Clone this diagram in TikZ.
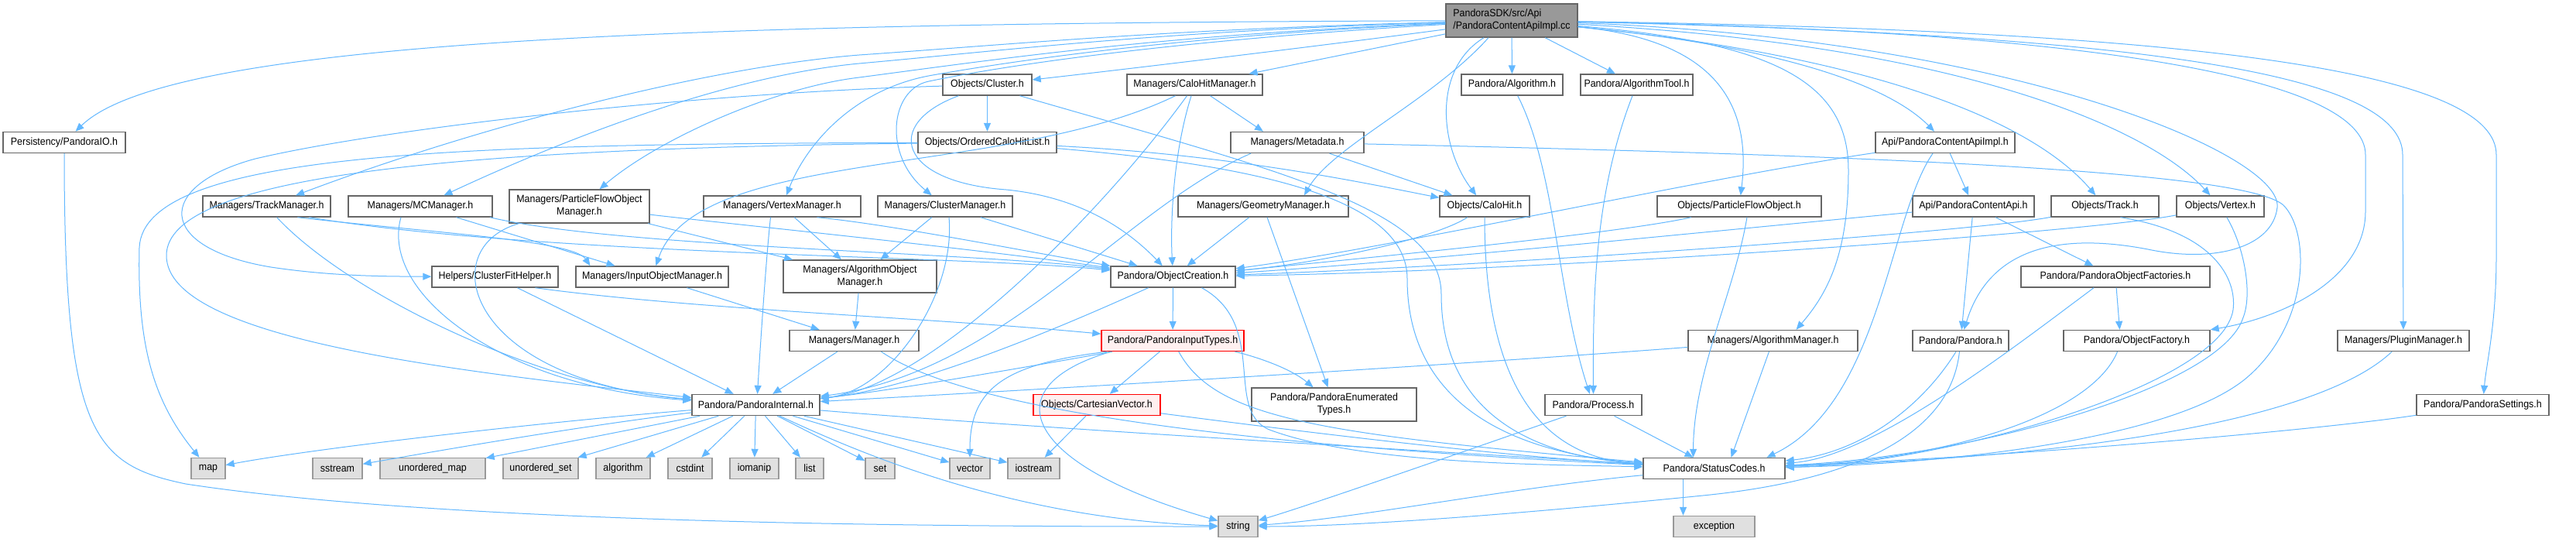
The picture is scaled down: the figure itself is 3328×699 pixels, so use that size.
\documentclass[tikz,border=0pt]{standalone}
\usepackage{graphicx}
\usepackage{fontspec}
\setmainfont{Liberation Sans}
\usetikzlibrary{arrows.meta}
\definecolor{edgeblue}{HTML}{63B8FF}
\definecolor{nodegray}{HTML}{666666}
\definecolor{extborder}{HTML}{999999}
\definecolor{extfill}{HTML}{E0E0E0}
\definecolor{rootfill}{HTML}{999999}
\definecolor{redfill}{HTML}{FFF0F0}
\newcommand\fw[2]{\scalebox{0.92}[1]{#2}}
\tikzset{
 nd/.style={draw=nodegray, fill=white, line width=1.4pt, minimum height=27pt, inner sep=0pt, font=\fontsize{13.5}{16}\selectfont, text=black},
 two/.style={minimum height=43pt, align=center},
 ext/.style={nd, draw=extborder, fill=extfill},
 rootnd/.style={nd, fill=rootfill, minimum height=43pt, align=left},
 rednd/.style={nd, draw=red, fill=redfill},
 edg/.style={draw=edgeblue, line width=1pt, -{Triangle[length=11pt,width=9pt]}},
}
\begin{document}
\begin{tikzpicture}[x=1pt,y=-1pt]
\fill[white] (0,0) rectangle (3328,699);
\useasboundingbox (0,0) rectangle (3328,699);
% ---------- nodes ----------
\node[rootnd, minimum width=170pt] (root) at (1953,26.5) {\fw{113}{PandoraSDK/src/Api}\\\fw{149}{/PandoraContentApiImpl.cc}};
\node[nd, minimum width=115pt] (cluster) at (1275.5,109.5) {\fw{94}{Objects/Cluster.h}};
\node[nd, minimum width=175pt] (chm) at (1543.5,109.5) {\fw{154}{Managers/CaloHitManager.h}};
\node[nd, minimum width=131pt] (alg) at (1953.5,109.5) {\fw{110}{Pandora/Algorithm.h}};
\node[nd, minimum width=145pt] (algtool) at (2114.5,109.5) {\fw{124}{Pandora/AlgorithmTool.h}};
\node[nd, minimum width=158pt] (pio) at (83,184) {\fw{137}{Persistency/PandoraIO.h}};
\node[nd, minimum width=179pt] (ochl) at (1275.5,184) {\fw{158}{Objects/OrderedCaloHitList.h}};
\node[nd, minimum width=172pt] (meta) at (1676,184) {\fw{151}{Managers/Metadata.h}};
\node[nd, minimum width=180pt] (apiimpl) at (2513,184) {\fw{159}{Api/PandoraContentApiImpl.h}};
\node[nd, minimum width=165pt] (trackmgr) at (344.5,266.5) {\fw{144}{Managers/TrackManager.h}};
\node[nd, minimum width=186pt] (mcmgr) at (543,266.5) {\fw{165}{Managers/MCManager.h}};
\node[nd, two, minimum width=181pt] (pfomgr) at (748.5,266.5) {\fw{159}{Managers/ParticleFlowObject}\\\fw{57}{Manager.h}};
\node[nd, minimum width=203pt] (vtxmgr) at (1010.5,266.5) {\fw{182}{Managers/VertexManager.h}};
\node[nd, minimum width=174pt] (clmgr) at (1221,266.5) {\fw{153}{Managers/ClusterManager.h}};
\node[nd, minimum width=220pt] (geomgr) at (1632,266.5) {\fw{199}{Managers/GeometryManager.h}};
\node[nd, minimum width=116pt] (calohit) at (1918,266.5) {\fw{95}{Objects/CaloHit.h}};
\node[nd, minimum width=212pt] (pfo) at (2247,266.5) {\fw{191}{Objects/ParticleFlowObject.h}};
\node[nd, minimum width=157pt] (api) at (2549.5,266.5) {\fw{136}{Api/PandoraContentApi.h}};
\node[nd, minimum width=139pt] (track) at (2719.5,266.5) {\fw{118}{Objects/Track.h}};
\node[nd, minimum width=113pt] (vertex) at (2868.5,266.5) {\fw{92}{Objects/Vertex.h}};
\node[nd, minimum width=163pt] (cfh) at (639.5,357.5) {\fw{142}{Helpers/ClusterFitHelper.h}};
\node[nd, minimum width=197pt] (iom) at (842.5,357.5) {\fw{176}{Managers/InputObjectManager.h}};
\node[nd, two, minimum width=198pt, minimum height=42pt] (aom) at (1111,357) {\fw{177}{Managers/AlgorithmObject}\\\fw{57}{Manager.h}};
\node[nd, minimum width=161pt] (oc) at (1515.5,357.5) {\fw{140}{Pandora/ObjectCreation.h}};
\node[nd, minimum width=244pt] (pof) at (2733,357.5) {\fw{223}{Pandora/PandoraObjectFactories.h}};
\node[nd, minimum width=167pt] (mgr) at (1103.5,440) {\fw{146}{Managers/Manager.h}};
\node[rednd, minimum width=184pt] (pit) at (1515,440) {\fw{163}{Pandora/PandoraInputTypes.h}};
\node[nd, minimum width=219pt] (algmgr) at (2290.5,440) {\fw{198}{Managers/AlgorithmManager.h}};
\node[nd, minimum width=124pt] (pandora) at (2533,440) {\fw{103}{Pandora/Pandora.h}};
\node[nd, minimum width=189pt] (of) at (2760.5,440) {\fw{168}{Pandora/ObjectFactory.h}};
\node[nd, minimum width=170pt] (plugin) at (3105,440) {\fw{149}{Managers/PluginManager.h}};
\node[nd, minimum width=165pt] (pint) at (976.5,523) {\fw{144}{Pandora/PandoraInternal.h}};
\node[rednd, minimum width=164pt] (cv) at (1417,523) {\fw{143}{Objects/CartesianVector.h}};
\node[nd, two, minimum width=213pt] (enum) at (1723.5,522.5) {\fw{192}{Pandora/PandoraEnumerated}\\\fw{43}{Types.h}};
\node[nd, minimum width=125pt] (proc) at (2058.5,523) {\fw{104}{Pandora/Process.h}};
\node[nd, minimum width=171pt] (settings) at (3207.5,523) {\fw{150}{Pandora/PandoraSettings.h}};
\node[ext, minimum width=44pt] (map) at (269,605) {\fw{23}{map}};
\node[ext, minimum width=64pt] (sstream) at (436,605) {\fw{43}{sstream}};
\node[ext, minimum width=136pt] (umap) at (559,605) {\fw{115}{unordered\_map}};
\node[ext, minimum width=97pt] (uset) at (698.5,605) {\fw{76}{unordered\_set}};
\node[ext, minimum width=70pt] (algo) at (805,605) {\fw{49}{algorithm}};
\node[ext, minimum width=57pt] (cstdint) at (891.5,605) {\fw{36}{cstdint}};
\node[ext, minimum width=63pt] (iomanip) at (974.5,605) {\fw{42}{iomanip}};
\node[ext, minimum width=36pt] (list) at (1046,605) {\fw{15}{list}};
\node[ext, minimum width=38pt] (set) at (1137,605) {\fw{17}{set}};
\node[ext, minimum width=52pt] (vector) at (1253,605) {\fw{31}{vector}};
\node[ext, minimum width=67pt] (iostream) at (1335.5,605) {\fw{46}{iostream}};
\node[nd, minimum width=183pt] (sc) at (2214.5,605) {\fw{162}{Pandora/StatusCodes.h}};
\node[ext, minimum width=51pt] (string) at (1599.5,680) {\fw{30}{string}};
\node[ext, minimum width=105pt] (exception) at (2214.5,680) {\fw{84}{exception}};
% ---------- edges ----------
% root
\draw[edg] (root) .. controls (900,30) and (220,50) .. (pio);
\draw[edg] (root) .. controls (1700,60) and (1450,90) .. (cluster);
\draw[edg] (root) -- (chm);
\draw[edg] (root) -- (alg);
\draw[edg] (root) -- (algtool);
\draw[edg] (root) .. controls (1500,38) and (1300,58) .. (1110,71) .. controls (900,88) and (600,170) .. (trackmgr);
\draw[edg] (root) .. controls (1500,40) and (1300,65) .. (1110,82) .. controls (950,97) and (750,170) .. (mcmgr);
\draw[edg] (root) .. controls (1500,45) and (1300,75) .. (1110,100) .. controls (1000,113) and (850,180) .. (pfomgr);
\draw[edg] (root) .. controls (1550,45) and (1330,75) .. (1205,97) .. controls (1100,115) and (1040,190) .. (vtxmgr);
\draw[edg] (root) .. controls (1550,50) and (1320,80) .. (1200,105) .. controls (1150,115) and (1140,200) .. (clmgr);
\draw[edg] ([xshift=-30pt]root.south) .. controls (1850,130) and (1720,190) .. ([xshift=53pt]geomgr.north);
\draw[edg] (root) .. controls (1850,90) and (1860,190) .. (calohit);
\draw[edg] (root) .. controls (2200,50) and (2265,120) .. (pfo);
\draw[edg] (root) .. controls (2300,60) and (2440,110) .. (apiimpl);
\draw[edg] (root) .. controls (2400,70) and (2620,150) .. (track);
\draw[edg] (root) .. controls (2550,60) and (2780,170) .. (vertex);
\draw[edg] (root) .. controls (2300,55) and (2388,110) .. (2388,220) .. controls (2388,330) and (2360,380) .. ([xshift=30pt]algmgr.north);
\draw[edg] (root) .. controls (2600,50) and (2950,200) .. (2942,268) .. controls (2936,320) and (2860,340) .. (2775,322) .. controls (2660,300) and (2570,320) .. (pandora);
\draw[edg] (root) .. controls (2700,40) and (3056,100) .. (3056,200) -- (3056,273) .. controls (3056,360) and (2950,410) .. (of.north east);
\draw[edg] (root) .. controls (2800,45) and (3104,100) .. (3104,200) -- (plugin);
\draw[edg] (root) .. controls (2900,40) and (3225,100) .. (3225,200) -- (3225,330) .. controls (3225,420) and (3212,470) .. (settings);
% cluster
\draw[edg] (cluster) -- (ochl);
\draw[edg] ([xshift=-37pt]cluster.south) .. controls (1140,160) and (1160,235) .. (1300,245) .. controls (1400,255) and (1460,300) .. (oc);
\draw[edg] ([xshift=42pt]cluster.south) .. controls (1650,220) and (1862,270) .. (1862,380) .. controls (1862,540) and (1990,590) .. (sc);
\draw[edg] (cluster) .. controls (900,120) and (500,165) .. (330,205) .. controls (200,240) and (200,320) .. (350,345) .. controls (430,357) and (500,357) .. (cfh);
% ordered calo hit list
\draw[edg] (ochl) .. controls (600,186) and (185,195) .. (180,320) .. controls (177,450) and (200,520) .. (map);
\draw[edg] (ochl) .. controls (600,192) and (215,225) .. (215,330) .. controls (215,440) and (600,480) .. (pint);
\draw[edg] (ochl) .. controls (1600,200) and (1780,240) .. (calohit);
\draw[edg] (ochl) .. controls (1640,215) and (1818,260) .. (1818,360) .. controls (1818,520) and (1950,585) .. (sc);
% calo hit manager
\draw[edg] ([xshift=20pt]chm.south) -- ([xshift=-44pt]meta.north);
\draw[edg] (chm) .. controls (1515,200) and (1512,290) .. (oc);
\draw[edg] ([xshift=-10pt]chm.south) .. controls (1420,280) and (1200,500) .. (pint);
\draw[edg] ([xshift=-25pt]chm.south) .. controls (1300,230) and (900,190) .. (iom);
% metadata
\draw[edg] (meta) -- (calohit);
\draw[edg] ([xshift=-60pt]meta.south) .. controls (1450,270) and (1300,480) .. (pint);
\draw[edg] (meta) .. controls (2400,200) and (2900,220) .. (2950,265) .. controls (2985,300) and (2985,420) .. (2900,490) .. controls (2800,570) and (2500,600) .. (sc);
% track manager
\draw[edg] (trackmgr) .. controls (450,380) and (700,500) .. (pint);
\draw[edg] ([xshift=40pt]trackmgr.south) .. controls (550,300) and (740,310) .. ([xshift=-80pt]iom.north);
\draw[edg] ([xshift=55pt]trackmgr.south) .. controls (700,330) and (1250,330) .. (oc);
% mc manager
\draw[edg] ([xshift=-25pt]mcmgr.south) .. controls (490,380) and (650,500) .. (pint);
\draw[edg] (mcmgr) -- ([xshift=-48pt]iom.north);
\draw[edg] ([xshift=90pt]mcmgr.south) .. controls (800,320) and (1250,325) .. (oc);
% pfo manager
\draw[edg] (pfomgr) .. controls (560,320) and (600,490) .. (pint);
\draw[edg] (pfomgr) .. controls (950,290) and (1250,320) .. (oc);
\draw[edg] (pfomgr) -- (aom);
% vertex manager
\draw[edg] ([xshift=-15pt]vtxmgr.south) .. controls (990,330) and (982,450) .. ([xshift=2pt]pint.north);
\draw[edg] (vtxmgr) -- (aom);
\draw[edg] ([xshift=45pt]vtxmgr.south) .. controls (1150,290) and (1300,320) .. (oc);
% cluster manager
\draw[edg] (clmgr) -- (aom);
\draw[edg] ([xshift=5pt]clmgr.south) .. controls (1235,380) and (1150,505) .. (pint);
\draw[edg] (clmgr) -- (oc);
% geometry manager
\draw[edg] (geomgr) -- (oc);
\draw[edg] (geomgr) -- (enum);
% calo hit
\draw[edg] (calohit) .. controls (1850,310) and (1700,340) .. (oc);
\draw[edg] (calohit) .. controls (1918,480) and (1980,590) .. (sc);
% particle flow object
\draw[edg] (pfo) .. controls (2100,300) and (1800,330) .. (oc);
\draw[edg] ([xshift=10pt]pfo.south) .. controls (2240,380) and (2188,480) .. ([xshift=-27pt]sc.north);
% api impl
\draw[edg] (apiimpl) -- (api);
\draw[edg] (apiimpl) .. controls (2200,230) and (1800,320) .. (oc);
\draw[edg] ([xshift=-16pt]apiimpl.south) .. controls (2440,280) and (2430,520) .. ([xshift=68pt]sc.north);
% api
\draw[edg] (api) .. controls (2200,300) and (1800,340) .. (oc);
\draw[edg] (api) -- (pandora);
\draw[edg] (api) -- (pof);
% track
\draw[edg] (track) .. controls (2550,300) and (1900,345) .. (oc);
\draw[edg] ([xshift=20pt]track.south) .. controls (2860,300) and (2890,360) .. (2885,400) .. controls (2870,500) and (2500,600) .. (sc);
% vertex
\draw[edg] (vertex) .. controls (2700,300) and (2000,350) .. (oc);
\draw[edg] (vertex) .. controls (2900,320) and (2910,380) .. (2898,410) .. controls (2870,500) and (2550,590) .. (sc);
% object factories
\draw[edg] (pof) -- ([xshift=-22pt]of.north);
\draw[edg] ([xshift=-28pt]pof.south) .. controls (2600,450) and (2420,590) .. (sc);
\draw[edg] ([xshift=-25pt]of.south) .. controls (2700,540) and (2500,595) .. (sc);
% pandora
\draw[edg] ([xshift=-6pt]pandora.south) .. controls (2480,530) and (2400,585) .. (sc);
\draw[edg] (pandora) .. controls (2520,560) and (2400,620) .. (2200,640) .. controls (1950,665) and (1750,680) .. (string);
% plugin, settings, algorithm manager
\draw[edg] (plugin) .. controls (3000,540) and (2700,590) .. (sc);
\draw[edg] (settings) .. controls (3000,555) and (2600,590) .. (sc);
\draw[edg] (algmgr) -- ([xshift=22pt]sc.north);
\draw[edg] (algmgr) .. controls (1900,470) and (1400,500) .. (pint);
% process
\draw[edg] (proc) -- (sc);
\draw[edg] ([xshift=-35pt]proc.south) .. controls (1900,580) and (1700,650) .. (string);
\draw[edg] (alg) .. controls (2010,220) and (2012,380) .. (proc);
\draw[edg] (algtool) .. controls (2060,250) and (2058,380) .. (proc);
% status codes
\draw[edg] ([xshift=-40pt]sc.south) -- ([xshift=-40pt]exception.north);
\draw[edg] (sc) .. controls (1950,630) and (1750,670) .. (string);
% input types
\draw[edg] (pit) -- (cv);
\draw[edg] (pit) .. controls (1600,455) and (1660,470) .. (enum);
\draw[edg] (pit) .. controls (1350,470) and (1150,505) .. (pint);
\draw[edg] ([xshift=-85pt]pit.south) .. controls (1300,470) and (1253,500) .. (vector);
\draw[edg] ([xshift=-80pt]pit.south) .. controls (1280,500) and (1320,600) .. (string);
\draw[edg] (pit) .. controls (1570,540) and (1700,560) .. (sc);
% object creation
\draw[edg] (oc) -- (pit);
\draw[edg] (oc) .. controls (1420,400) and (1200,500) .. (pint);
\draw[edg] ([xshift=37pt]oc.south) .. controls (1640,420) and (1580,530) .. (1640,555) .. controls (1760,600) and (2000,600) .. (sc);
% cartesian vector
\draw[edg] (cv) -- (iostream);
\draw[edg] (cv) .. controls (1700,560) and (1950,590) .. (sc);
% managers
\draw[edg] (mgr) -- (pint);
\draw[edg] ([xshift=35pt]mgr.south) .. controls (1250,530) and (1600,575) .. (sc);
\draw[edg] (iom) -- (mgr);
\draw[edg] (aom) -- (mgr);
% cluster fit helper
\draw[edg] (cfh) -- (pint);
\draw[edg] ([xshift=52pt]cfh.south) .. controls (900,400) and (1200,410) .. (pit);
% pandora internal
\draw[edg] (pint) .. controls (700,545) and (400,580) .. (map);
\draw[edg] (pint) .. controls (750,550) and (550,585) .. (sstream);
\draw[edg] (pint) -- (umap);
\draw[edg] (pint) -- (uset);
\draw[edg] (pint) -- (algo);
\draw[edg] (pint) -- (cstdint);
\draw[edg] (pint) -- (iomanip);
\draw[edg] (pint) -- (list);
\draw[edg] (pint) -- (set);
\draw[edg] (pint) -- (vector);
\draw[edg] (pint) -- (iostream);
\draw[edg] (pint) .. controls (1100,580) and (1300,670) .. (string);
\draw[edg] (pint) .. controls (1300,550) and (1800,580) .. (sc);
% persistency
\draw[edg] (pio) .. controls (83,560) and (120,600) .. (240,625) .. controls (600,680) and (1300,680) .. (string);
\end{tikzpicture}
\end{document}
